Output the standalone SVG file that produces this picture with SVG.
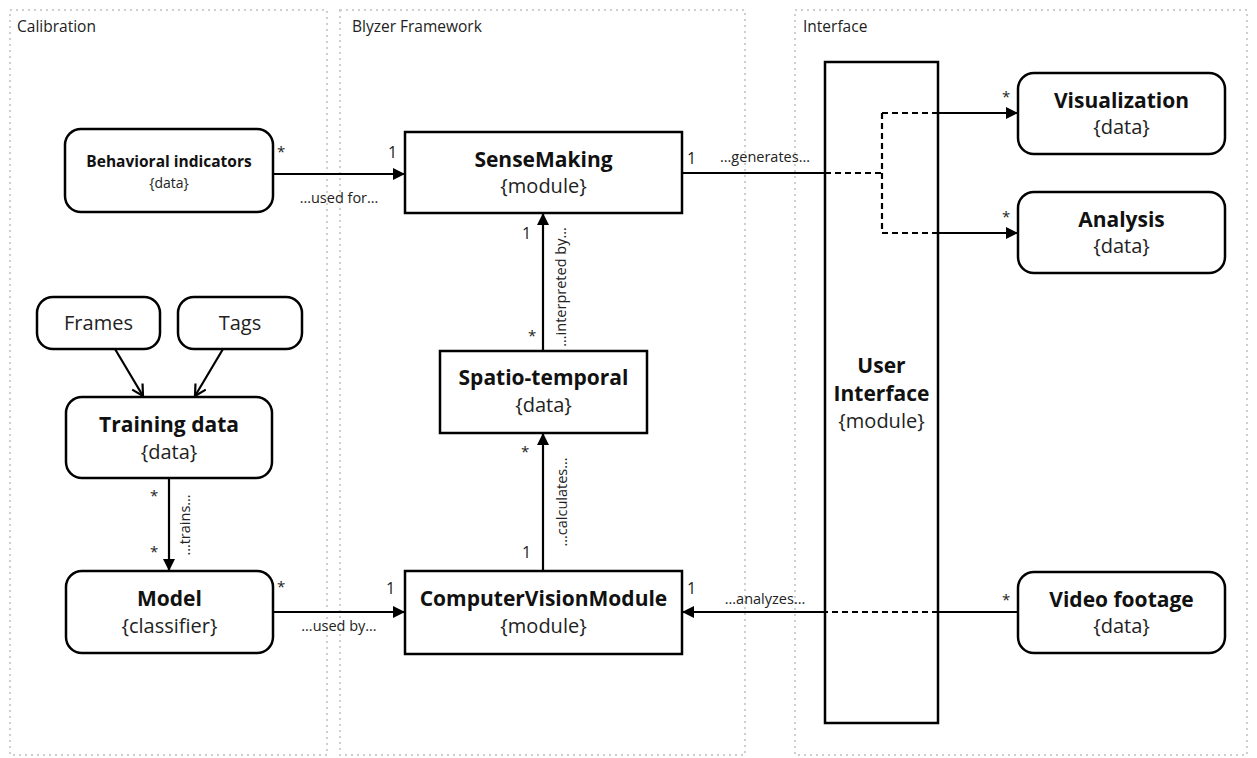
<svg xmlns="http://www.w3.org/2000/svg" width="1257" height="758" viewBox="0 0 1257 758">
  <style>
    text { font-family: "Open Sans", "Liberation Sans", sans-serif; fill: #111; }
    .lane { fill: none; stroke: #cfcfcf; stroke-width: 2; stroke-dasharray: 2 4; }
    .lane-title { font-size: 15.5px; fill: #222; }
    .box { fill: #fff; stroke: #000; stroke-width: 2.5; }
    .title { font-size: 21px; font-weight: bold; text-anchor: middle; }
    .stereo { font-size: 20px; text-anchor: middle; fill: #222; }
    .small-title { font-size: 15.5px; font-weight: bold; text-anchor: middle; }
    .small-stereo { font-size: 14px; text-anchor: middle; fill: #222; }
    .edge { fill: none; stroke: #000; stroke-width: 2.2; }
    .dash { stroke-dasharray: 6 4; }
    .mult { font-size: 16px; fill: #222; }
    .star { font-size: 15px; fill: #222; }
    .elabel { font-size: 14.5px; text-anchor: middle; fill: #222; }
  </style>
  <defs>
    <marker id="tri" markerUnits="userSpaceOnUse" markerWidth="14" markerHeight="14" refX="12" refY="6" orient="auto">
      <path d="M0,0 L12,6 L0,12 Z" fill="#000"/>
    </marker>
    <marker id="open" markerUnits="userSpaceOnUse" markerWidth="16" markerHeight="16" refX="12" refY="7" orient="auto">
      <path d="M1,1 L12,7 L1,13" fill="none" stroke="#000" stroke-width="2.2"/>
    </marker>
  </defs>

  <!-- swimlanes -->
  <g id="lanes">
    <rect class="lane" x="10" y="10" width="317" height="745"/>
    <rect class="lane" x="340" y="10" width="405" height="745"/>
    <rect class="lane" x="795" y="10" width="452" height="745"/>
    <text class="lane-title" x="17" y="32">Calibration</text>
    <text class="lane-title" x="352" y="32">Blyzer Framework</text>
    <text class="lane-title" x="803" y="32">Interface</text>
  </g>

  <!-- the tall UI module sits under the connectors that cross it -->
  <g id="user-interface">
    <rect class="box" x="825" y="62" width="113" height="661"/>
    <text class="title" x="881.5" y="373">User</text>
    <text class="title" x="881.5" y="401">Interface</text>
    <text class="stereo" x="881.5" y="428">{module}</text>
  </g>

  <!-- connectors -->
  <g id="connectors">
    <!-- Behavioral indicators -> SenseMaking -->
    <line class="edge" x1="273" y1="174" x2="405" y2="174" marker-end="url(#tri)"/>
    <text class="star" x="277" y="157">*</text>
    <text class="mult" x="388" y="158">1</text>
    <text class="elabel" x="339" y="203">…used for…</text>

    <!-- SenseMaking -> Visualization / Analysis -->
    <line class="edge" x1="682" y1="173" x2="825" y2="173"/>
    <line class="edge dash" x1="825" y1="173" x2="882" y2="173"/>
    <line class="edge dash" x1="882" y1="113" x2="882" y2="233"/>
    <line class="edge dash" x1="882" y1="113" x2="938" y2="113"/>
    <line class="edge" x1="938" y1="113" x2="1018" y2="113" marker-end="url(#tri)"/>
    <line class="edge dash" x1="882" y1="233" x2="938" y2="233"/>
    <line class="edge" x1="938" y1="233" x2="1018" y2="233" marker-end="url(#tri)"/>
    <text class="mult" x="687" y="164">1</text>
    <text class="elabel" x="765" y="162">…generates…</text>
    <text class="star" x="1002" y="102">*</text>
    <text class="star" x="1002" y="222">*</text>

    <!-- Spatio-temporal -> SenseMaking -->
    <line class="edge" x1="543" y1="351" x2="543" y2="213" marker-end="url(#tri)"/>
    <text class="mult" x="522" y="239">1</text>
    <text class="star" x="528" y="341">*</text>
    <text class="elabel" transform="translate(566,287) rotate(-90)">…interpreted by…</text>

    <!-- ComputerVisionModule -> Spatio-temporal -->
    <line class="edge" x1="543" y1="571" x2="543" y2="433" marker-end="url(#tri)"/>
    <text class="star" x="521" y="457">*</text>
    <text class="mult" x="522" y="558">1</text>
    <text class="elabel" transform="translate(567,502) rotate(-90)">…calculates…</text>

    <!-- Frames / Tags -> Training data -->
    <line class="edge" x1="115" y1="349" x2="143" y2="396" marker-end="url(#open)"/>
    <line class="edge" x1="223" y1="349" x2="195" y2="396" marker-end="url(#open)"/>

    <!-- Training data -> Model -->
    <line class="edge" x1="169" y1="478" x2="169" y2="571" marker-end="url(#tri)"/>
    <text class="star" x="150" y="501">*</text>
    <text class="star" x="150" y="557">*</text>
    <text class="elabel" transform="translate(190,525) rotate(-90)">…trains…</text>

    <!-- Model -> ComputerVisionModule -->
    <line class="edge" x1="273" y1="612" x2="405" y2="612" marker-end="url(#tri)"/>
    <text class="star" x="277" y="592">*</text>
    <text class="mult" x="386" y="594">1</text>
    <text class="elabel" x="339" y="631">…used by…</text>

    <!-- Video footage -> ComputerVisionModule -->
    <line class="edge" x1="1018" y1="612" x2="938" y2="612"/>
    <line class="edge dash" x1="938" y1="612" x2="825" y2="612"/>
    <line class="edge" x1="825" y1="612" x2="682" y2="612" marker-end="url(#tri)"/>
    <text class="mult" x="687" y="594">1</text>
    <text class="elabel" x="765" y="604">…analyzes…</text>
    <text class="star" x="1002" y="605">*</text>
  </g>

  <!-- Calibration -->
  <g id="behavioral-indicators">
    <rect class="box" x="65" y="129" width="208" height="83" rx="16"/>
    <text class="small-title" x="169" y="167">Behavioral indicators</text>
    <text class="small-stereo" x="169" y="188">{data}</text>
  </g>
  <g id="frames">
    <rect class="box" x="37" y="297" width="123" height="52" rx="16"/>
    <text class="stereo" x="98.5" y="330">Frames</text>
  </g>
  <g id="tags">
    <rect class="box" x="178" y="297" width="124" height="52" rx="16"/>
    <text class="stereo" x="240" y="330">Tags</text>
  </g>
  <g id="training-data">
    <rect class="box" x="66" y="397" width="206" height="81" rx="16"/>
    <text class="title" x="169" y="432">Training data</text>
    <text class="stereo" x="169" y="459">{data}</text>
  </g>
  <g id="model">
    <rect class="box" x="66" y="571" width="207" height="82" rx="16"/>
    <text class="title" x="169.5" y="606">Model</text>
    <text class="stereo" x="169.5" y="633">{classifier}</text>
  </g>

  <!-- Blyzer Framework -->
  <g id="sensemaking">
    <rect class="box" x="405" y="132" width="277" height="81"/>
    <text class="title" x="543.5" y="167">SenseMaking</text>
    <text class="stereo" x="543.5" y="193">{module}</text>
  </g>
  <g id="spatio-temporal">
    <rect class="box" x="440" y="351" width="207" height="82"/>
    <text class="title" x="543.5" y="385">Spatio-temporal</text>
    <text class="stereo" x="543.5" y="412">{data}</text>
  </g>
  <g id="computer-vision-module">
    <rect class="box" x="405" y="571" width="277" height="83"/>
    <text class="title" x="543.5" y="606">ComputerVisionModule</text>
    <text class="stereo" x="543.5" y="633">{module}</text>
  </g>

  <!-- Interface -->
  <g id="visualization">
    <rect class="box" x="1018" y="73" width="207" height="81" rx="16"/>
    <text class="title" x="1121.5" y="108">Visualization</text>
    <text class="stereo" x="1121.5" y="134">{data}</text>
  </g>
  <g id="analysis">
    <rect class="box" x="1018" y="192" width="207" height="81" rx="16"/>
    <text class="title" x="1121.5" y="227">Analysis</text>
    <text class="stereo" x="1121.5" y="253">{data}</text>
  </g>
  <g id="video-footage">
    <rect class="box" x="1018" y="572" width="207" height="81" rx="16"/>
    <text class="title" x="1121.5" y="607">Video footage</text>
    <text class="stereo" x="1121.5" y="633">{data}</text>
  </g>
</svg>
